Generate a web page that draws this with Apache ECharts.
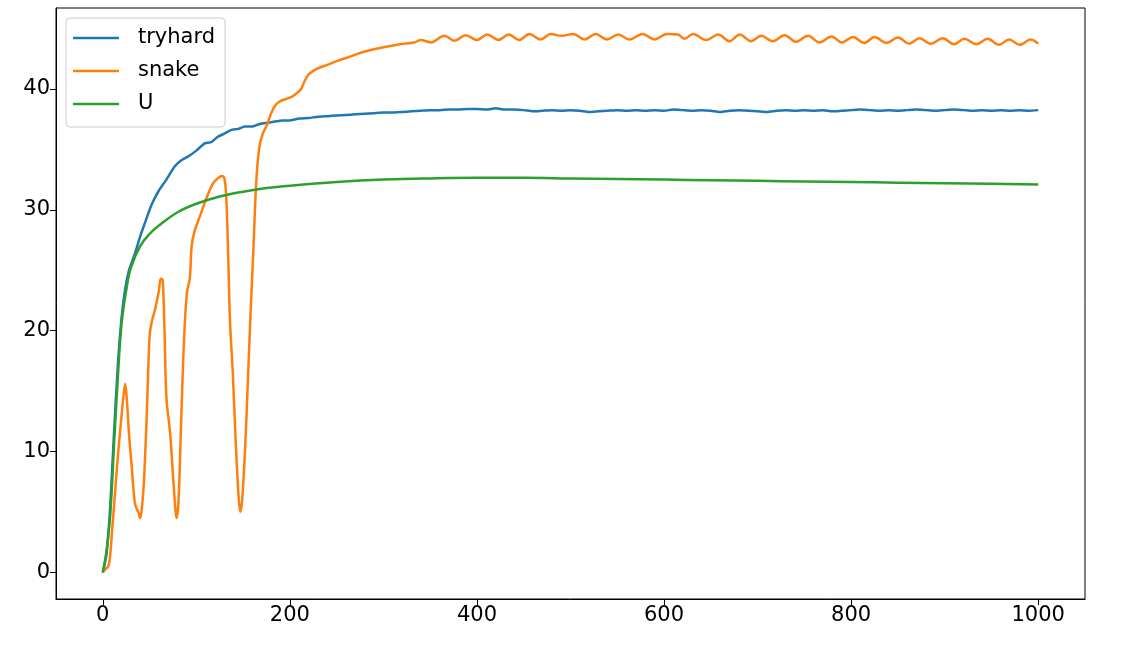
<!DOCTYPE html>
<html><head><meta charset="utf-8">
<script src="https://cdn.jsdelivr.net/npm/echarts@6/dist/echarts.min.js"></script>
<style>html,body{margin:0;padding:0;background:#fff}#c{width:1122px;height:650px}</style>
</head><body><div id="c"></div>
<script>
const xTicks = [0, 200, 400, 600, 800, 1000];
const yTicks = [0, 10, 20, 30, 40];
const seriesNames = ['tryhard', 'snake', 'U'];

const tryhardX = [0,4,8,12,16,20,24,28,34,40,45,52,60,68,77,84,91,100,109,116,123,130,137,145,152,160,168,176,184,192,200,210,220,230,240,250,260,270,280,290,300,310,320,330,340,350,360,370,380,390,400,410,420,430,440,450,460,470,480,490,500,510,520,530,540,550,560,570,580,590,600,610,620,630,640,650,660,670,680,690,700,710,720,730,740,750,760,770,780,790,800,810,820,830,840,850,860,870,880,890,900,910,920,930,940,950,960,970,980,990,1000];
const tryhardY = [0,1.5,5.5,11.5,17,21,23.5,25,26.3,27.8,28.9,30.4,31.6,32.5,33.6,34.1,34.4,34.9,35.5,35.6,36.05,36.3,36.6,36.7,36.9,36.9,37.1,37.2,37.3,37.4,37.4,37.55,37.6,37.7,37.75,37.8,37.85,37.9,37.95,38.0,38.05,38.05,38.1,38.15,38.2,38.25,38.25,38.3,38.3,38.35,38.35,38.3,38.4,38.3,38.3,38.25,38.15,38.2,38.25,38.2,38.25,38.2,38.1,38.15,38.2,38.25,38.2,38.25,38.2,38.25,38.2,38.3,38.25,38.2,38.25,38.2,38.1,38.2,38.25,38.2,38.15,38.1,38.2,38.25,38.2,38.25,38.2,38.25,38.15,38.2,38.25,38.3,38.25,38.2,38.25,38.2,38.25,38.3,38.25,38.2,38.25,38.3,38.25,38.2,38.25,38.2,38.25,38.2,38.25,38.2,38.25];

const snakeX = [0,3,6,8,10,13,16,20,22,24,26,28,31,34,36,38,40,42,44,47,50,52,56,60,62,64,66,68,72,76,79,81,84,87,90,93,95,98,104,111,118,123,127,130,132,134,136,139,142,145,147,149,152,155,158,161,164,167,171,176,180,185,190,197,203,208,212,216,220,225,230,240,250,265,280,300,318,333,340,351,365,376,388,400,411,423,434,445,456,468,479,490,503,515,527,539,551,563,577,590,603,615,622,631,645,658,670,681,693,704,716,729,741,754,766,779,790,802,814,825,838,850,862,873,885,898,910,921,934,946,958,969,980,992,1000];
const snakeY = [0,0.3,0.5,1.5,3.5,6.5,9.5,12.9,14.5,15.6,14.0,11.5,8.7,5.9,5.3,5.0,4.5,5.5,7.5,13,19.5,20.6,21.8,23.3,24.3,24.2,20,14.5,11.5,7,4.5,6,13,19.5,23.2,24.3,27,28.2,29.5,31.0,32.2,32.6,32.8,32.6,31,26.5,20.8,16.5,11,6.5,5.0,6.0,10,15.6,21.5,26.7,32.2,35.0,36.3,37.1,38.0,38.7,39.0,39.2,39.4,39.7,40.0,40.7,41.2,41.5,41.7,42.0,42.3,42.7,43.1,43.45,43.7,43.85,44.05,43.85,44.4,44.0,44.45,44.05,44.5,44.05,44.5,44.05,44.55,44.1,44.55,44.4,44.55,44.1,44.55,44.1,44.5,44.1,44.55,44.1,44.55,44.5,44.15,44.55,44.05,44.5,43.95,44.5,43.95,44.4,43.95,44.45,43.9,44.4,43.85,44.35,43.85,44.3,43.8,44.3,43.8,44.25,43.75,44.2,43.75,44.2,43.7,44.15,43.7,44.15,43.65,44.1,43.65,44.1,43.75];

const uX = [0,4,8,12,16,20,25,30,40,50,60,80,100,125,150,175,200,250,300,350,400,450,500,550,600,650,700,750,800,850,900,950,1000];
const uY = [0,1.8,4.8,10.5,16,20.5,23.3,25.2,27.0,28.0,28.7,29.8,30.5,31.1,31.5,31.8,32.0,32.3,32.5,32.6,32.65,32.65,32.6,32.55,32.5,32.45,32.4,32.35,32.3,32.25,32.2,32.15,32.1];

const pair = (xs, ys) => xs.map((x, i) => [x, ys[i]]);
const colors = ['#1f77b4', '#ff7f0e', '#2ca02c'];
const FONT = 'DejaVu Sans';
const FS = 21;

const chart = echarts.init(document.getElementById('c'), null, {renderer: 'canvas'});
chart.setOption({
  animation: false,
  backgroundColor: '#fff',
  color: colors,
  grid: {left: 56, right: 37, top: 8, bottom: 51, show: true, borderColor: '#000', borderWidth: 1, backgroundColor: 'transparent'},
  legend: {
    orient: 'vertical', left: 66, top: 18,
    data: seriesNames,
    icon: 'rect', itemWidth: 46, itemHeight: 2.5, itemGap: 11,
    padding: [9, 10, 12, 7],
    backgroundColor: 'rgba(255,255,255,0.8)', borderColor: '#cccccc', borderWidth: 1, borderRadius: 4,
    textStyle: {fontFamily: FONT, fontSize: FS, color: '#000', lineHeight: 22, padding: [0, 0, 0, 14]}
  },
  xAxis: {
    type: 'value', min: -50, max: 1050,
    splitLine: {show: false},
    axisLine: {show: true, onZero: false, lineStyle: {color: '#000', width: 1}},
    axisTick: {show: true, customValues: xTicks, length: 6, lineStyle: {color: '#000', width: 1}},
    axisLabel: {customValues: xTicks, margin: 6, fontFamily: FONT, fontSize: FS, color: '#000', formatter: v => String(v)}
  },
  yAxis: {
    type: 'value', min: -2.2, max: 46.7,
    splitLine: {show: false},
    axisLine: {show: true, onZero: false, lineStyle: {color: '#000', width: 1}},
    axisTick: {show: true, customValues: yTicks, length: 6, lineStyle: {color: '#000', width: 1}},
    axisLabel: {customValues: yTicks, margin: 6, fontFamily: FONT, fontSize: FS, color: '#000', formatter: v => String(v)}
  },
  series: [
    {name: seriesNames[0], type: 'line', data: pair(tryhardX, tryhardY), showSymbol: false, symbol: 'none', smooth: 0.2, lineStyle: {width: 2.5}},
    {name: seriesNames[1], type: 'line', data: pair(snakeX, snakeY), showSymbol: false, symbol: 'none', smooth: 0.35, lineStyle: {width: 2.5}},
    {name: seriesNames[2], type: 'line', data: pair(uX, uY), showSymbol: false, symbol: 'none', smooth: 0.4, lineStyle: {width: 2.5}}
  ]
});
</script></body></html>
